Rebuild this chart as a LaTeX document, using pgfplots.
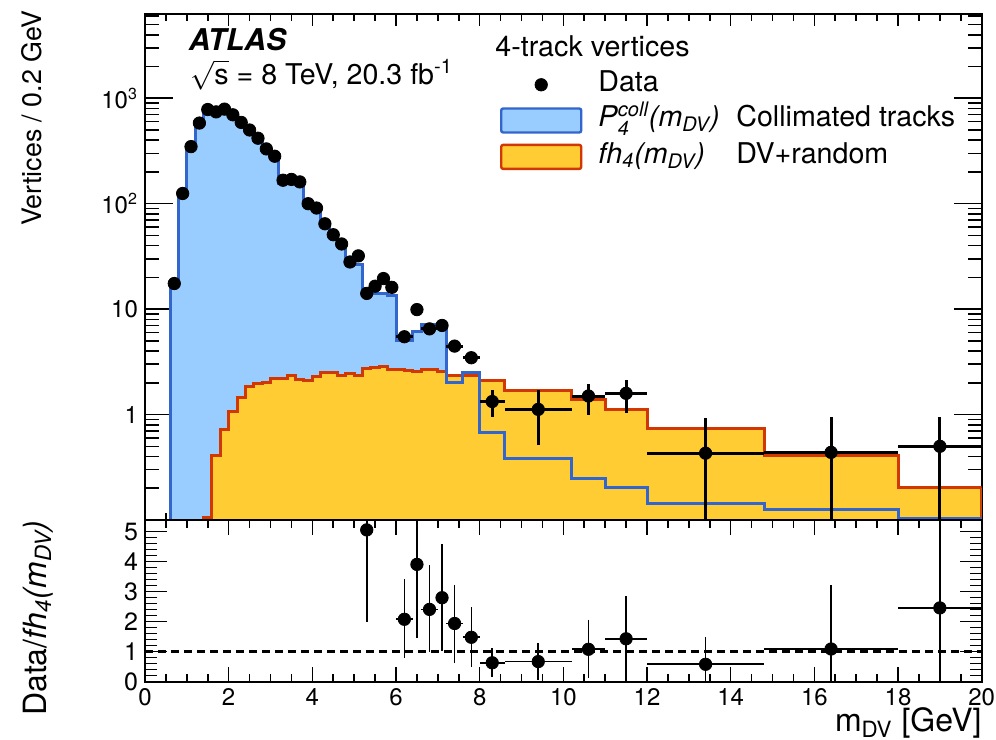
\documentclass[border=0pt]{standalone}
\usepackage{pgfplots}
\usepackage{pgfplotstable}
\pgfplotsset{compat=1.18}
\usepackage{amsmath}
\usepackage{fontspec}
\setmainfont{TeX Gyre Heros}
\definecolor{bfill}{RGB}{153,204,255}
\definecolor{bline}{RGB}{51,102,204}
\definecolor{yfill}{RGB}{255,204,51}
\definecolor{rline}{RGB}{210,55,0}
\newcommand{\mDV}{\textit{(m}$_{\text{\itshape DV}}$\textit{)}}
\newcommand{\Pcoll}{\textit{P}$^{\text{\itshape coll}}_{\text{\itshape 4}}$}
\newcommand{\fh}{\textit{fh}$_{\text{\itshape 4}}$}

\pgfplotstableread{
x y
0.6 0.01
0.6 17
0.8 120
1.0 340
1.2 560
1.4 740
1.6 710
1.8 750
2.0 670
2.2 570
2.4 480
2.6 400
2.8 320
3.0 268
3.2 157
3.4 157
3.6 155
3.8 98
4.0 96
4.2 62
4.4 48
4.6 40
4.8 27
5.0 26.4
5.2 14.3
5.4 14
5.6 14.2
5.8 13.5
6.0 5.0
6.4 6.2
6.6 7.1
7.2 2.0
7.6 2.5
8.0 0.676
8.6 0.379
10.2 0.25
11.0 0.203
12.0 0.143
14.8 0.126
18.0 0.104
20.0 0.104
20.0 0.01
}\bluehist

\pgfplotstableread{
x y
1.4 0.01
1.4 0.105
1.6 0.41
1.8 0.715
2.0 1.08
2.2 1.46
2.4 1.83
2.6 1.98
2.8 2.0
3.0 2.2
3.2 2.22
3.4 2.35
3.6 2.15
3.8 2.12
4.0 2.3
4.2 2.5
4.4 2.53
4.6 2.37
4.8 2.45
5.0 2.33
5.2 2.75
5.4 2.8
5.6 2.85
5.8 2.7
6.0 2.65
6.2 2.62
6.4 2.55
6.6 2.7
6.8 2.7
7.0 2.55
7.2 2.35
7.6 2.33
8.0 2.12
8.6 1.71
10.2 1.40
11.0 1.12
12.0 0.743
14.8 0.407
18.0 0.202
20.0 0.202
20.0 0.01
}\redhist

\begin{document}
\begin{tikzpicture}
\path[use as bounding box] (0,0) rectangle (498pt,369.5pt);
\pgfplotsset{
  common/.style={
    scale only axis, width=418.35pt,
    xmin=0, xmax=20,
    xtick={0,2,...,20}, minor x tick num=3,
    axis line style={line width=1pt},
    tick style={line width=0.8pt, black},
    tick align=inside,
    /pgf/number format/assume math mode=true,
    tick label style={font=\fontsize{12}{14}\selectfont},
  }
}
\begin{axis}[common,
  at={(72.5pt,362.5pt)}, anchor=north west, height=253pt,
  ymode=log, ymin=0.1, ymax=6300,
  xticklabels={},
  ytick={1,10,100,1000},
  yticklabels={1,10,10\textsuperscript{2},10\textsuperscript{3}},
  minor ytick={0.2,0.3,0.4,0.5,0.6,0.7,0.8,0.9,2,3,4,5,6,7,8,9,20,30,40,50,60,70,80,90,200,300,400,500,600,700,800,900,2000,3000,4000,5000,6000},
  x tick style={/pgfplots/major tick length=6pt,/pgfplots/minor tick length=3.5pt},
  y tick style={/pgfplots/major tick length=14pt,/pgfplots/minor tick length=7pt},
  legend style={at={(0.4243,0.8848)}, anchor=north west, draw=none, fill=none,
    inner sep=0pt, outer sep=0pt, row sep=5pt,
    font=\fontsize{14.3}{17}\selectfont,
    nodes={inner sep=0pt, text height=9.5pt, text depth=3pt},
    /tikz/every odd column/.append style={column sep=8pt}},
  legend cell align=left,
]
\addplot[const plot, fill=bfill, draw=none, forget plot] table[x=x,y=y] {\bluehist};
\addplot[const plot, fill=yfill, draw=rline, line width=1.5pt, forget plot] table[x=x,y=y] {\redhist};
\addplot[const plot, draw=bline, line width=1.5pt, forget plot] table[x=x,y=y] {\bluehist};
\addplot[only marks, mark=*, mark size=3.1pt, black, forget plot,
  error bars/.cd, x dir=both, x explicit, y dir=both, y explicit, error mark=none,
  error bar style={line width=1.5pt}]
coordinates {
 (0.7,17.5) (0.9,125) (1.1,348) (1.3,582) (1.5,782) (1.7,743) (1.9,789)
 (2.1,697) (2.3,590) (2.5,500) (2.7,418) (2.9,331) (3.1,282) (3.3,167)
 (3.5,170) (3.7,161) (3.9,100) (4.1,91) (4.3,64.5) (4.5,50.8) (4.7,41.5)
 (4.9,28) (5.1,32) (5.3,14.1) (5.5,16.5) (5.7,19.5) (5.9,16.1)
 (6.2,5.47) +- (0.2,0) (6.5,9.9) +- (0.1,0) (6.8,6.5) +- (0.2,0) (7.1,7.0) +- (0.1,0)
 (7.4,4.46) +- (0.2,0) (7.8,3.46) +- (0.2,0)
 (8.3,1.33) += (0.3,0.38) -= (0.3,0.39)
 (9.4,1.12) += (0.8,0.59) -= (0.8,0.60)
 (10.6,1.5) += (0.4,0.46) -= (0.4,0.50)
 (11.5,1.59) += (0.5,0.56) -= (0.5,0.56)
 (13.4,0.43) += (1.4,0.49) -= (1.4,0.40)
 (16.4,0.438) += (1.6,0.51) -= (1.6,0.41)
 (19.0,0.5) += (1.0,0.44) -= (1.0,0.47)
};
\addlegendimage{legend image code/.code={\path[draw=none,fill=none] (0pt,-6pt) rectangle (40pt,6pt); \draw[black, mark=*, mark size=3.1pt] plot coordinates {(20pt,0pt)};}}
\addlegendentry{Data}
\addlegendimage{legend image code/.code={\draw[fill=bfill, draw=bline, line width=1.2pt, rounded corners=1pt] (0pt,-6pt) rectangle (40pt,6pt);}}
\addlegendentry{\makebox[69pt][l]{\Pcoll\mDV}Collimated tracks}
\addlegendimage{legend image code/.code={\draw[fill=yfill, draw=rline, line width=1.2pt, rounded corners=1pt] (0pt,-6pt) rectangle (40pt,6pt);}}
\addlegendentry{\makebox[69pt][l]{\fh\mDV}DV+random}
\end{axis}

\begin{axis}[common,
  at={(72.5pt,109.5pt)}, anchor=north west, height=80.85pt,
  ymin=0, ymax=5.39,
  ytick={0,1,...,5}, minor y tick num=4,
  x tick style={/pgfplots/major tick length=7.5pt,/pgfplots/minor tick length=4pt},
  y tick style={/pgfplots/major tick length=11pt,/pgfplots/minor tick length=6pt},
  yticklabel style={font=\fontsize{12.5}{14}\selectfont},
]
\addplot[black, dash pattern=on 4pt off 2.5pt, line width=1.3pt] coordinates {(0,1) (20,1)};
\addplot[only marks, mark=*, mark size=3.1pt, black,
  error bars/.cd, x dir=both, x explicit, y dir=both, y explicit, error mark=none,
  error bar style={line width=0.8pt}]
coordinates {
 (5.3,5.06) += (0.1,3) -= (0.1,3.06)
 (6.2,2.08) += (0.2,1.33) -= (0.2,1.30)
 (6.5,3.91) += (0.1,2) -= (0.1,2.44)
 (6.8,2.41) += (0.2,1.48) -= (0.2,1.41)
 (7.1,2.8) += (0.1,1.78) -= (0.1,1.77)
 (7.4,1.94) += (0.2,1.28) -= (0.2,1.31)
 (7.8,1.48) += (0.2,1.0) -= (0.2,0.98)
 (8.3,0.63) += (0.3,0.48) -= (0.3,0.46)
 (9.4,0.67) += (0.8,0.61) -= (0.8,0.61)
 (10.6,1.08) += (0.4,0.98) -= (0.4,0.97)
 (11.5,1.43) += (0.5,1.43) -= (0.5,1.43)
 (13.4,0.58) += (1.4,0.92) -= (1.4,0.58)
 (16.4,1.09) += (1.6,2.13) -= (1.6,1.09)
 (19.0,2.46) += (1.0,3) -= (1.0,2.46)
};
\end{axis}

\node[anchor=base west, font=\fontsize{15}{18}\selectfont\bfseries\itshape, inner sep=0pt] at (94.2pt,344pt) {ATLAS};
\node[anchor=base west, font=\fontsize{14.3}{17}\selectfont, inner sep=0pt] at (95pt,327.3pt) {\raisebox{0pt}[8.5pt]{$\sqrt{\text{s}}$} = 8 TeV, 20.3 fb\textsuperscript{-1}};
\node[anchor=base west, font=\fontsize{14.3}{17}\selectfont, inner sep=0pt] at (247.5pt,341.2pt) {4-track vertices};
\node[rotate=90, anchor=base east, font=\fontsize{13.4}{16}\selectfont, inner sep=0pt] at (20.5pt,364.5pt) {Vertices / 0.2 GeV};
\node[rotate=90, anchor=base east, font=\fontsize{16}{19}\selectfont, inner sep=0pt] at (23pt,109.5pt) {Data/\fh\mDV};
\node[anchor=base east, font=\fontsize{16}{19}\selectfont, inner sep=0pt] at (491pt,3.5pt) {m$_{\text{DV}}$ [GeV]};
\end{tikzpicture}
\end{document}
